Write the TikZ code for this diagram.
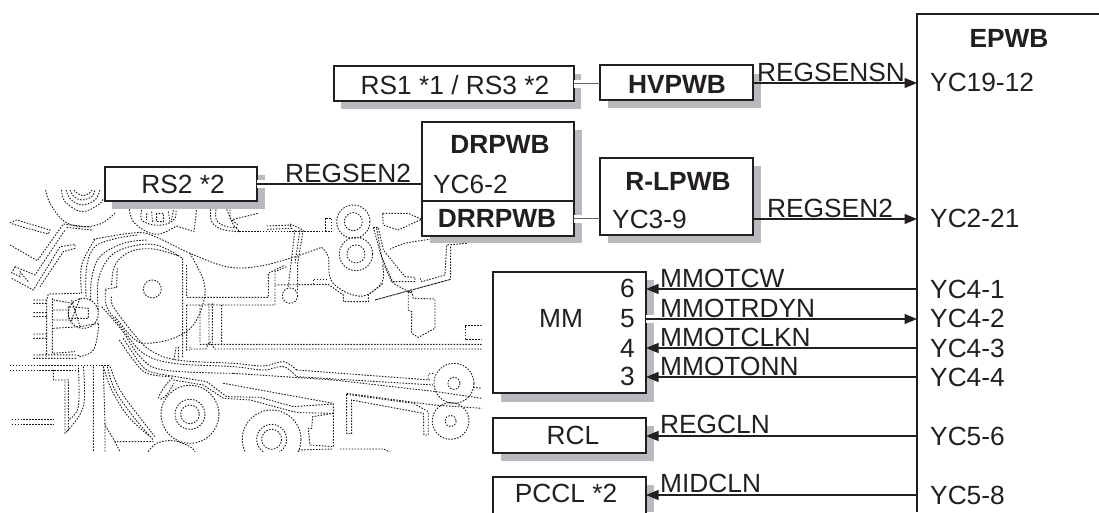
\documentclass[tikz,border=0pt]{standalone}
\usepackage{fontspec}
\setmainfont{Liberation Sans}
\usetikzlibrary{arrows.meta}
\definecolor{ink}{HTML}{231F20}
\definecolor{shade}{HTML}{B9BABE}
\tikzset{
  lbl/.style={inner sep=0pt,text=ink,font=\fontsize{26.3}{30}\selectfont},
  lblw/.style={lbl,anchor=base west},
  lblc/.style={lbl,anchor=base},
  blbl/.style={lbl,anchor=base,font=\fontsize{26.3}{30}\selectfont\bfseries},
  boxn/.style={draw=ink,line width=1.7pt,fill=white,inner sep=0pt,outer sep=0pt,anchor=north west},
  conn/.style={draw=ink,line width=1.1pt},
  arr/.style={conn,-{Triangle[length=12.5pt,width=10pt]}},
  sc/.style={draw=black!90,line width=.9pt,dash pattern=on 1.5pt off 1.45pt},
  sh/.style={fill=shade,draw=none},
  halo/.style={draw=white,line width=8pt}
}
\newcommand{\sm}[1]{\draw[sc] plot[smooth,tension=.6] coordinates {#1};}
\begin{document}
\begin{tikzpicture}[x=1pt,y=-1pt]
\useasboundingbox (0,0) rectangle (1099,512);
% ---- mechanism drawn behind the diagram
\begin{scope}[shift={(0,150)},x=.3333pt,y=-.3333pt]
\clip (30,120) rectangle (1445,905);
\sm{(137,120)(150,160)(190,212)(240,230)(300,222)(345,190)}
\sm{(185,120)(195,155)(245,185)(295,165)(310,145)}
\sm{(198,120)(212,148)(245,165)(285,150)(300,120)}
\sm{(210,120)(222,140)(245,150)(275,140)(285,120)}
\sm{(222,120)(232,130)(250,137)(268,130)(275,120)}
\sm{(388,178)(400,215)(440,245)(480,252)(530,228)}
\draw[sc] (530,228)--(582,245)--(590,178);
\sm{(425,180)(425,210)(460,225)(500,222)(525,205)(528,180)}
\draw[sc] (440,190)--(440,210) (455,185)--(458,220) (470,190) rectangle (490,215) (505,185)--(510,215) (520,180)--(515,210);
\sm{(632,178)(635,215)(665,238)(718,245)}
\draw[sc] (718,245)--(975,245)--(975,205)--(995,205)--(995,245)--(975,245);
\sm{(648,178)(650,212)(680,230)(715,232)}
\draw[sc] (680,178)--(700,225)--(720,245) (690,178)--(690,205)--(715,225) (700,208)--(775,190);
\draw[sc] (800,228)--(870,225)--(875,235)--(800,238);
\draw[sc] (870,222)--(910,240)--(893,340)--(893,420) (885,240)--(865,410) (900,240)--(885,340);
\draw[sc] (870,437) circle (23);
\draw[sc] (825,405)--(985,403)--(1030,435)--(1030,455)--(1105,455)--(1105,435)--(1150,400);
\draw[sc] (940,403)--(940,387)--(985,387);
\sm{(965,292)(985,320)(988,375)(1005,405)(1045,430)(1090,438)(1130,415)(1150,385)(1148,345)}
\draw[sc] (1060,215) circle (50) (1060,215) circle (27) (1068,312) circle (50) (1068,312) circle (27);
\draw[sc] (1120,232)--(1135,232)--(1150,300)--(1215,380)--(1245,382)--(1245,395)--(1175,395)--(1150,340)--cycle;
\draw[sc] (1130,235)--(1145,320)--(1180,400)--(1235,430);
\draw[sc] (1148,190)--(1225,190)--(1265,208)--(1195,240)--(1150,225)--cycle;
\sm{(1170,298)(1215,280)(1290,268)}
\draw[sc] (1400,280)--(1340,285)--(1335,375)--(1265,395)--(1260,385) (1352,290)--(1352,385);
\draw[ink,line width=.9pt,dash pattern=on 3pt off .6pt] (1125,450)--(1352,388);
\draw[sc] (1225,425)--(1235,425)--(1240,445)--(1305,447)--(1305,535)--(1255,562)--(1235,550)--(1235,485)--(1225,480)--cycle;
\draw[sc] (1445,525)--(1395,525)--(1395,568)--(1445,568);
\draw[sc] (600,583)--(1445,583) (570,590)--(570,597)--(618,597)--(628,575)--(645,597)--(1445,597);
% top-left linkage
\draw[sc] (30,218)--(50,210)--(150,240)--(145,252)--(70,232)--(32,220);
\draw[sc] (30,285)--(112,332)--(190,222)--(272,232) (200,232)--(275,240);
\draw[sc] (45,350)--(35,368)--(60,380)--(60,365)--(85,395) (45,350)--(105,375)--(195,240);
\draw[sc] (35,385)--(100,420)--(180,290)--(225,283)--(225,295)--(190,305)--(120,410);
% main roller and guides
\sm{(280,268)(410,248)(470,262)(570,310)(680,350)(770,350)(870,325)(965,292)}
\sm{(245,430)(245,345)(285,268)}
\sm{(258,440)(260,350)(285,290)(350,265)(415,255)}
\sm{(272,450)(275,385)(300,320)(370,280)(440,270)}
\sm{(295,480)(295,390)(330,320)(390,290)(470,285)(548,325)}
\sm{(335,405)(345,345)(390,305)(460,297)(535,318)}
\draw[sc] (315,418)--(350,412)--(352,350);
\draw[sc] (457,417) circle (27);
\sm{(570,310)(610,390)(612,450)(580,525)(520,565)(440,580)(400,565)(345,500)}
\draw[sc] (548,325)--(548,625) (560,345)--(560,442)--(805,442)--(805,370)--(855,345);
\draw[sc] (560,465)--(825,465)--(825,365)--(860,350) (560,465)--(560,600)--(570,600) (600,465)--(600,578) (627,460)--(627,575) (637,460)--(637,578) (665,465)--(665,583);
\sm{(335,440)(340,470)(400,550)(450,600)(530,630)(700,640)(790,648)(850,635)(890,660)}
\draw[sc] (890,660)--(1290,690);
\sm{(318,420)(320,470)(370,540)(430,610)(520,640)(700,650)(790,660)(850,650)(890,680)}
\draw[sc] (890,680)--(1300,705);
\sm{(305,470)(365,540)(420,620)(490,660)(700,670)}
\draw[sc] (700,670)--(1000,690)--(1310,725)--(1445,745);
\sm{(358,570)(400,630)(440,670)(510,680)}
\sm{(370,565)(420,640)(450,665)(515,678)}
\draw[sc] (522,630)--(528,592)--(535,592)--(535,628);
% right rollers
\draw[sc] (1362,700) circle (60) (1362,700) circle (18) (1352,813) circle (55) (1352,813) circle (17);
\draw[sc] (1300,670)--(1285,672)--(1285,690) (1420,712)--(1445,715);
\draw[sc] (1040,733)--(1040,850)--(1055,852)--(1055,750)--(1270,790)--(1272,855)--(1285,855)--(1285,785)--(1240,760)--cycle;
\draw[sc] (1040,730)--(1300,765)--(1445,775);
% lower guides
\draw[sc] (515,678)--(620,695)--(680,740)--(780,742)--(880,770)--(1000,762);
\draw[sc] (520,690)--(610,705)--(670,745)--(750,750)--(880,785)--(900,788)--(1000,790);
\draw[sc] (670,700)--(1000,760)--(1000,890)--(930,885)--(925,835)--(935,835)--(938,800)--(1000,790);
\draw[sc] (570,793) circle (87) (570,793) circle (45) (570,793) circle (28);
\sm{(475,745)(490,715)(520,680)}
\sm{(482,748)(500,735)(522,700)}
\draw[sc] (815,868) circle (88) (815,868) circle (45) (815,868) circle (30);
\draw[sc] (895,900)--(1000,897) (1020,897)--(1150,897)--(1175,908);
\sm{(445,905)(470,880)(520,872)(570,890)(585,905)}
% lower left
\draw[sc] (30,645)--(330,645) (30,660)--(235,660);
\draw[sc] (160,660)--(160,690)--(205,690)--(205,840)--(195,850)--(195,690);
\sm{(235,645)(235,770)(205,810)}
\sm{(250,650)(250,770)(200,845)}
\draw[sc] (280,650)--(280,905) (315,820)--(315,905) (345,875)--(360,905);
\draw[sc] (310,650)--(315,825)--(345,875)--(460,875);
\sm{(310,650)(335,720)(385,800)(450,860)}
\sm{(322,650)(345,720)(400,800)(460,870)}
\sm{(330,650)(360,720)(410,790)(465,860)}
\draw[sc] (35,808)--(160,808) (35,822)--(160,822);
% left block
\draw[sc] (100,450)--(140,450)--(145,432)--(240,430) (140,450)--(140,620) (100,460)--(140,460) (100,488)--(140,488) (100,500)--(140,500) (100,552)--(140,552) (100,565)--(140,565);
\sm{(100,615)(225,615)(240,620)(280,600)(295,540)(295,520)}
\draw[sc] (100,625)--(230,625) (157,445)--(157,610)--(225,605);
\draw[sc] (250,490) circle (45);
\draw[sc] (160,450)--(220,460) (160,480)--(205,480) (160,510)--(220,510) (205,470)--(205,505)--(265,505)--(265,475)--cycle (160,535)--(240,530)--(295,520) (215,450)--(240,530) (240,445)--(210,520);
\end{scope}
% ---- shadows
\fill[sh] (341,74) rectangle (581,109);
\fill[sh] (608,74) rectangle (761,108);
\fill[sh] (430,130) rectangle (582,243);
\fill[sh] (608,166) rectangle (761,243);
\fill[sh] (112,175) rectangle (265,209);
\fill[sh] (501,280) rectangle (654,402);
\fill[sh] (501,426) rectangle (654,461);
\fill[sh] (501,485) rectangle (654,512);
% ---- boxes
\node[boxn,minimum width=240pt,minimum height=35pt] (rsa) at (334,66) {};
\node[boxn,minimum width=153pt,minimum height=35pt] (hv) at (600,65) {};
\node[boxn,minimum width=152pt,minimum height=79pt] (dr) at (422,122) {};
\node[boxn,minimum width=152pt,minimum height=35pt] (drr) at (422,201) {};
\node[boxn,minimum width=153pt,minimum height=77pt] (rl) at (600,158) {};
\node[boxn,minimum width=152pt,minimum height=34pt] (rsb) at (105,167) {};
\node[boxn,minimum width=153pt,minimum height=121pt] (mm) at (493,272) {};
\node[boxn,minimum width=153pt,minimum height=35pt] (rcl) at (493,418) {};
\node[boxn,minimum width=153pt,minimum height=40pt] (pccl) at (493,477) {};
\coordinate (etl) at (917,14);
\coordinate (etr) at (1099,14);
\coordinate (ebl) at (917,512);
\draw[draw=ink,line width=1.7pt] (etr)--(etl)--(ebl);
% ---- connectors
\coordinate (p1) at (917,83);
\coordinate (p2) at (917,219);
\coordinate (p3) at (917,289);
\coordinate (p4) at (917,319);
\coordinate (p5) at (917,348);
\coordinate (p6) at (917,377);
\coordinate (p7) at (917,436);
\coordinate (p8) at (917,495);
\draw[halo] (rsa.east) -- ++(8,0);
\draw[halo] (drr.east) -- ++(8,0);
\draw[halo] (rsb.east) -- ++(8,0);
\draw[halo] (mm.east |- p4) -- ++(8,0);
\draw[conn,draw=ink!70] (rsa.east) -- (rsa.east -| hv.west);
\draw[conn,draw=ink!70] (drr.east) -- (drr.east -| rl.west);
\draw[conn] (rsb.east) -- (rsb.east -| dr.west);
\draw[arr] (hv.east |- p1) -- (p1);
\draw[arr] (rl.east |- p2) -- (p2);
\draw[arr] (p3) -- (mm.east |- p3);
\draw[arr] (mm.east |- p4) -- (p4);
\draw[arr] (p5) -- (mm.east |- p5);
\draw[arr] (p6) -- (mm.east |- p6);
\draw[arr] (p7) -- (rcl.east |- p7);
\draw[arr] (p8) -- (pccl.east |- p8);
% ---- labels
\node[lblc] (t1) at (455,94) {RS1 *1 / RS3 *2};
\node[blbl] (t2) at (677,93) {HVPWB};
\node[blbl] (t3) at (500,153) {DRPWB};
\node[lblw] (t4) at (433,193) {YC6-2};
\node[blbl] (t5) at (497,227) {DRRPWB};
\node[blbl] (t6) at (678,190) {R-LPWB};
\node[lblw] (t7) at (612,228) {YC3-9};
\node[lblc] (t8) at (183,193) {RS2 *2};
\node[lblw] (t9) at (285,182) {REGSEN2};
\node[lblw] (t10) at (757,81) {REGSENSN};
\node[lblw] (t11) at (767,217) {REGSEN2};
\node[blbl] (t12) at (1009,47) {EPWB};
\node[lblw] (t13) at (930,91) {YC19-12};
\node[lblw] (t14) at (930,227) {YC2-21};
\node[lblw] (t15) at (930,298) {YC4-1};
\node[lblw] (t16) at (930,327) {YC4-2};
\node[lblw] (t17) at (930,357) {YC4-3};
\node[lblw] (t18) at (930,386) {YC4-4};
\node[lblw] (t19) at (930,445) {YC5-6};
\node[lblw] (t20) at (930,504) {YC5-8};
\node[lblw] (t21) at (539,327) {MM};
\node[lblw] (t22) at (620,297) {6};
\node[lblw] (t23) at (620,327) {5};
\node[lblw] (t24) at (620,357) {4};
\node[lblw] (t25) at (620,385) {3};
\node[lblw] (t26) at (660,287) {MMOTCW};
\node[lblw] (t27) at (660,317) {MMOTRDYN};
\node[lblw] (t28) at (660,346) {MMOTCLKN};
\node[lblw] (t29) at (660,375) {MMOTONN};
\node[lblw] (t30) at (660,433) {REGCLN};
\node[lblw] (t31) at (660,492) {MIDCLN};
\node[lblc] (t32) at (573,444) {RCL};
\node[lblc] (t33) at (566,502) {PCCL *2};
\end{tikzpicture}
\end{document}
